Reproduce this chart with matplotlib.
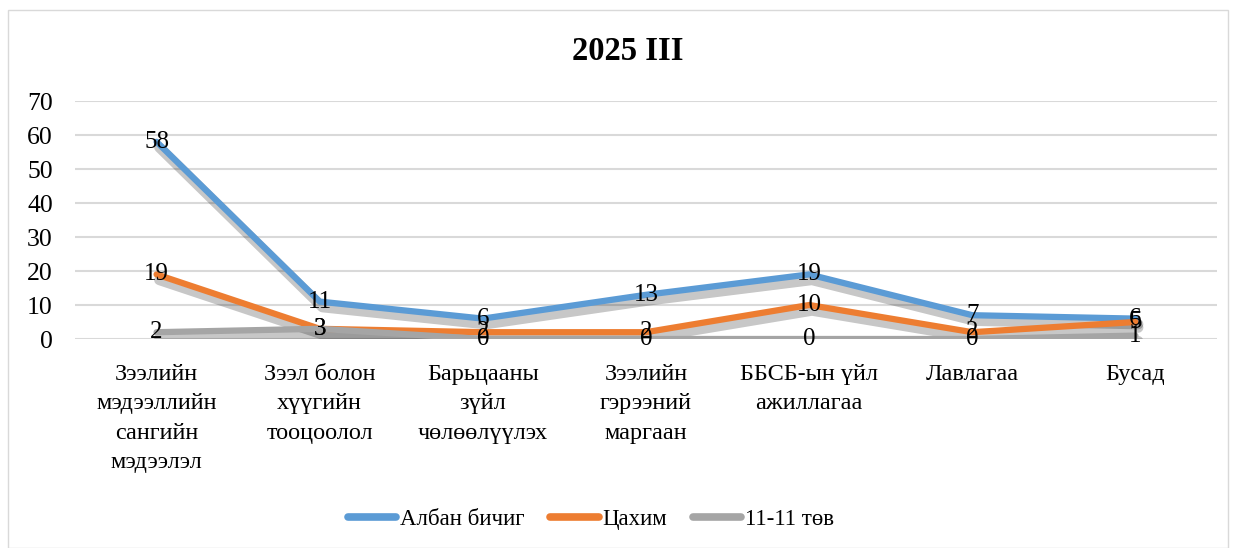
import matplotlib
matplotlib.use("Agg")
import matplotlib.pyplot as plt
import matplotlib.patheffects as pe
from matplotlib.patches import Rectangle

categories = ["Зээлийн\nмэдээллийн\nсангийн\nмэдээлэл", "Зээл болон\nхүүгийн\nтооцоолол",
              "Барьцааны\nзүйл\nчөлөөлүүлэх", "Зээлийн\nгэрээний\nмаргаан",
              "ББСБ-ын үйл\nажиллагаа", "Лавлагаа", "Бусад"]
alban = [58, 11, 6, 13, 19, 7, 6]
tsahim = [19, 3, 2, 2, 10, 2, 5]
tov = [2, 3, 0, 0, 0, 0, 1]
series_names = ["Албан бичиг", "Цахим", "11-11 төв"]
colors = ["#5B9BD5", "#ED7D31", "#A5A5A5"]
yticks = [0, 10, 20, 30, 40, 50, 60, 70]

plt.rcParams['font.family'] = ['Liberation Serif', 'DejaVu Serif']

fig = plt.figure(figsize=(12.35, 5.48), dpi=100)
ax = fig.add_axes([75/1235, 1-339/548, (1217-75)/1235, (339-101)/548])

x = list(range(len(categories)))
shadow = [pe.SimpleLineShadow(offset=(2, -4), shadow_color='black', alpha=0.22, linewidth=7.5),
          pe.Normal()]
handles = []
for vals, name, c in zip([alban, tsahim, tov], series_names, colors):
    h, = ax.plot(x, vals, color=c, lw=4.5, label=name, solid_capstyle='round',
                 path_effects=shadow, zorder=3)
    handles.append(h)
for vals in [alban, tsahim, tov]:
    for xi, v in zip(x, vals):
        ax.text(xi, v, str(v), ha='center', va='center', fontsize=18, color='black', zorder=5)

ax.set_xlim(-0.5, len(categories) - 0.5)
ax.set_ylim(0, 70)
ax.set_yticks(yticks)
ax.set_yticklabels([str(t) for t in yticks], fontsize=18.5)
ax.set_xticks(x)
ax.set_xticklabels(categories, fontsize=17.5, linespacing=1.52, va='top')
ax.tick_params(axis='y', length=0, pad=16)
ax.tick_params(axis='x', length=0, pad=18)
ax.grid(axis='y', color='#D9D9D9', lw=1.5)
ax.set_axisbelow(True)
for s in ax.spines.values():
    s.set_visible(False)

fig.text(628/1235, 1-52/548, "2025 III", ha='center', va='center', fontsize=23.5, fontweight='bold')

leg = fig.legend(handles=handles, loc='center', bbox_to_anchor=(591/1235, 1-519/548), ncol=3,
                 frameon=False, fontsize=16.5, handlelength=2.1, handletextpad=0.17, columnspacing=1.13)
for lh in leg.get_lines():
    lh.set_path_effects([])
    lh.set_linewidth(5.5)

fig.patches.append(Rectangle((8/1235, 0), (1228-8)/1235, 1-10/548, transform=fig.transFigure,
                             fill=False, edgecolor='#D9D9D9', lw=1))

fig.savefig("out.png", dpi=100)
